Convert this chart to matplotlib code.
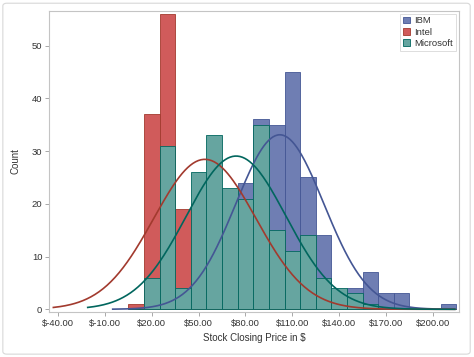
import numpy as np
import matplotlib
matplotlib.use("Agg")
import matplotlib.pyplot as plt
from matplotlib.patches import FancyBboxPatch

plt.rcParams["font.family"] = ["Liberation Sans", "DejaVu Sans"]

# bin centres (width 10) and counts per stock
bins = [10, 20, 30, 40, 50, 60, 70, 80, 90, 100, 110, 120, 130, 140, 150, 160, 170, 180, 190, 200, 210]
ibm =  [0, 0, 0, 2, 8, 10, 13, 24, 36, 35, 45, 25, 14, 3, 4, 7, 3, 3, 0, 0, 1]
intel = [1, 37, 56, 19, 20, 22, 18, 15, 16, 12, 8, 6, 3, 0, 0, 0, 0, 0, 0, 0, 0]
msft = [0, 6, 31, 4, 26, 33, 23, 21, 35, 15, 11, 14, 6, 4, 3, 1, 0, 0, 0, 0, 0]

stocks = ["IBM", "Intel", "Microsoft"]
n_obs = [233, 233, 233]
means = [102.0, 54.0, 74.0]
sds = [28.1, 32.7, 32.0]
curve_start = [-5, -43, -21]
curve_end = 214

fills = ["#6F7EB3", "#D05B5B", "#66A5A0"]
lines = ["#445694", "#A23A2E", "#01665E"]

fig = plt.figure(figsize=(4.74, 3.57), dpi=100)
fig.patch.set_facecolor("white")
fig.patches.append(FancyBboxPatch((0.006, 0.008), 0.986, 0.983, boxstyle="round,pad=0,rounding_size=0.008",
                                  transform=fig.transFigure, fc="none", ec="#d8d8d8", lw=0.8))
ax = fig.add_axes([0.104, 0.127, 0.864, 0.843])

for k, counts in enumerate([ibm, intel, msft]):
    ax.bar(bins, counts, width=10, color=fills[k], edgecolor=lines[k], linewidth=0.6,
           label=stocks[k], zorder=2 + k)

for k in range(3):
    xs = np.linspace(curve_start[k], curve_end, 300)
    ys = n_obs[k] * 10 * np.exp(-0.5 * ((xs - means[k]) / sds[k]) ** 2) / (sds[k] * np.sqrt(2 * np.pi))
    ax.plot(xs, ys, color=lines[k], lw=1.2, zorder=6)

ax.set_xlim(-45.6, 216.6)
ax.set_ylim(-0.45, 56.6)
xt = list(range(-40, 201, 30))
ax.set_xticks(xt)
ax.set_xticklabels([f"${v:.2f}" for v in xt])
ax.set_yticks(range(0, 51, 10))
ax.tick_params(labelsize=6.8, colors="#333333", length=3, width=0.6, color="#9a9a9a", pad=2)
for s in ax.spines.values():
    s.set_color("#c4c4c4")
    s.set_linewidth(0.8)

ax.set_xlabel("Stock Closing Price in $", fontsize=7, color="#333333", labelpad=4)
ax.set_ylabel("Count", fontsize=7, color="#333333", labelpad=8)

leg = ax.legend(loc="upper right", fontsize=6.8, frameon=True, fancybox=False,
                handlelength=0.7, handleheight=0.7, handletextpad=0.5, borderpad=0.3,
                labelspacing=0.25, borderaxespad=0.3)
leg.get_frame().set_edgecolor("#cfcfcf")
leg.get_frame().set_linewidth(0.6)
for t in leg.get_texts():
    t.set_color("#333333")

plt.savefig("out.png", dpi=100)
